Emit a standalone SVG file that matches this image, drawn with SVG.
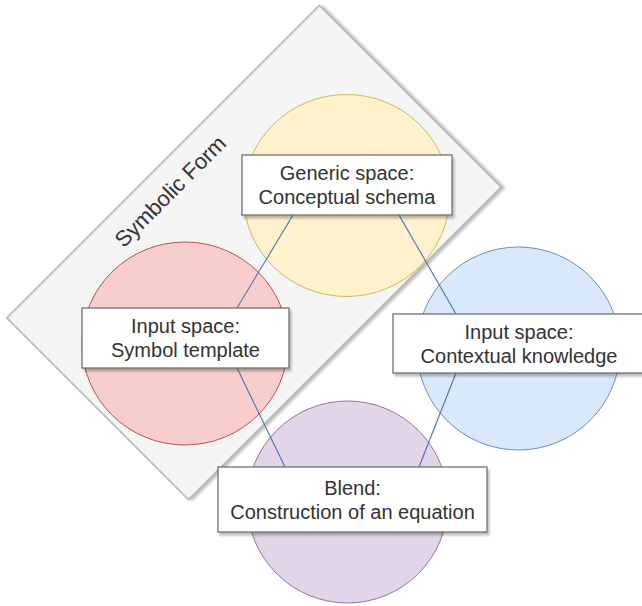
<svg xmlns="http://www.w3.org/2000/svg" width="642" height="606" viewBox="0 0 642 606">
  <defs>
    <filter id="shadow" x="-10%" y="-10%" width="130%" height="130%">
      <feDropShadow dx="2" dy="3" stdDeviation="1.2" flood-color="#000" flood-opacity="0.25"/>
    </filter>
  </defs>
  <style>
    text { font-family: "Liberation Sans", Arial, Helvetica, sans-serif; fill: #333; }
    .lbl { font-size: 20px; text-anchor: middle; }
    .box { fill: #ffffff; stroke: #666666; stroke-width: 1.2; filter: url(#shadow); }
    .link { fill: none; stroke: #4a74b6; stroke-width: 1.1; }
  </style>

  <!-- Symbolic Form frame -->
  <g id="symbolic-form">
    <rect x="33" y="124" width="442" height="257" transform="rotate(-45 254 252.5)" fill="#f5f5f5" stroke="#9a9a9a" stroke-width="1.2" filter="url(#shadow)"/>
    <text x="170" y="191" font-size="22" text-anchor="middle" transform="rotate(-45 170 191)" dy="8">Symbolic Form</text>
  </g>

  <!-- Space circles -->
  <g id="generic-circle">
    <ellipse cx="346.5" cy="195.5" rx="103" ry="101" fill="#fff2cc" stroke="#d6b656" stroke-width="1"/>
  </g>
  <g id="symbol-circle">
    <ellipse cx="185" cy="343.5" rx="103" ry="101.5" fill="#f8cecc" stroke="#b85450" stroke-width="1"/>
  </g>
  <g id="context-circle">
    <ellipse cx="518.5" cy="348.5" rx="101.5" ry="101.5" fill="#dae8fc" stroke="#6c8ebf" stroke-width="1"/>
  </g>
  <g id="blend-circle">
    <ellipse cx="347.5" cy="502" rx="100.5" ry="101" fill="#e1d5e7" stroke="#9673a6" stroke-width="1"/>
  </g>

  <!-- Connectors -->
  <g id="connectors">
    <line class="link" x1="293" y1="215" x2="237" y2="308"/>
    <line class="link" x1="399" y1="215" x2="456" y2="314"/>
    <line class="link" x1="237" y1="368" x2="285" y2="467"/>
    <line class="link" x1="456" y1="373" x2="419" y2="467"/>
  </g>

  <!-- Label boxes -->
  <g id="generic-space">
    <rect class="box" x="242" y="155" width="210" height="60"/>
    <text class="lbl" x="347" y="180">Generic space:</text>
    <text class="lbl" x="347" y="204">Conceptual schema</text>
  </g>
  <g id="input-symbol">
    <rect class="box" x="82" y="308" width="207" height="60"/>
    <text class="lbl" x="185.5" y="333">Input space:</text>
    <text class="lbl" x="185.5" y="357">Symbol template</text>
  </g>
  <g id="input-context">
    <rect class="box" x="393" y="314" width="252" height="59"/>
    <text class="lbl" x="519" y="338.5">Input space:</text>
    <text class="lbl" x="519" y="362.5">Contextual knowledge</text>
  </g>
  <g id="blend">
    <rect class="box" x="218" y="467" width="269" height="65"/>
    <text class="lbl" x="352.5" y="495">Blend:</text>
    <text class="lbl" x="352.5" y="519">Construction of an equation</text>
  </g>
</svg>
